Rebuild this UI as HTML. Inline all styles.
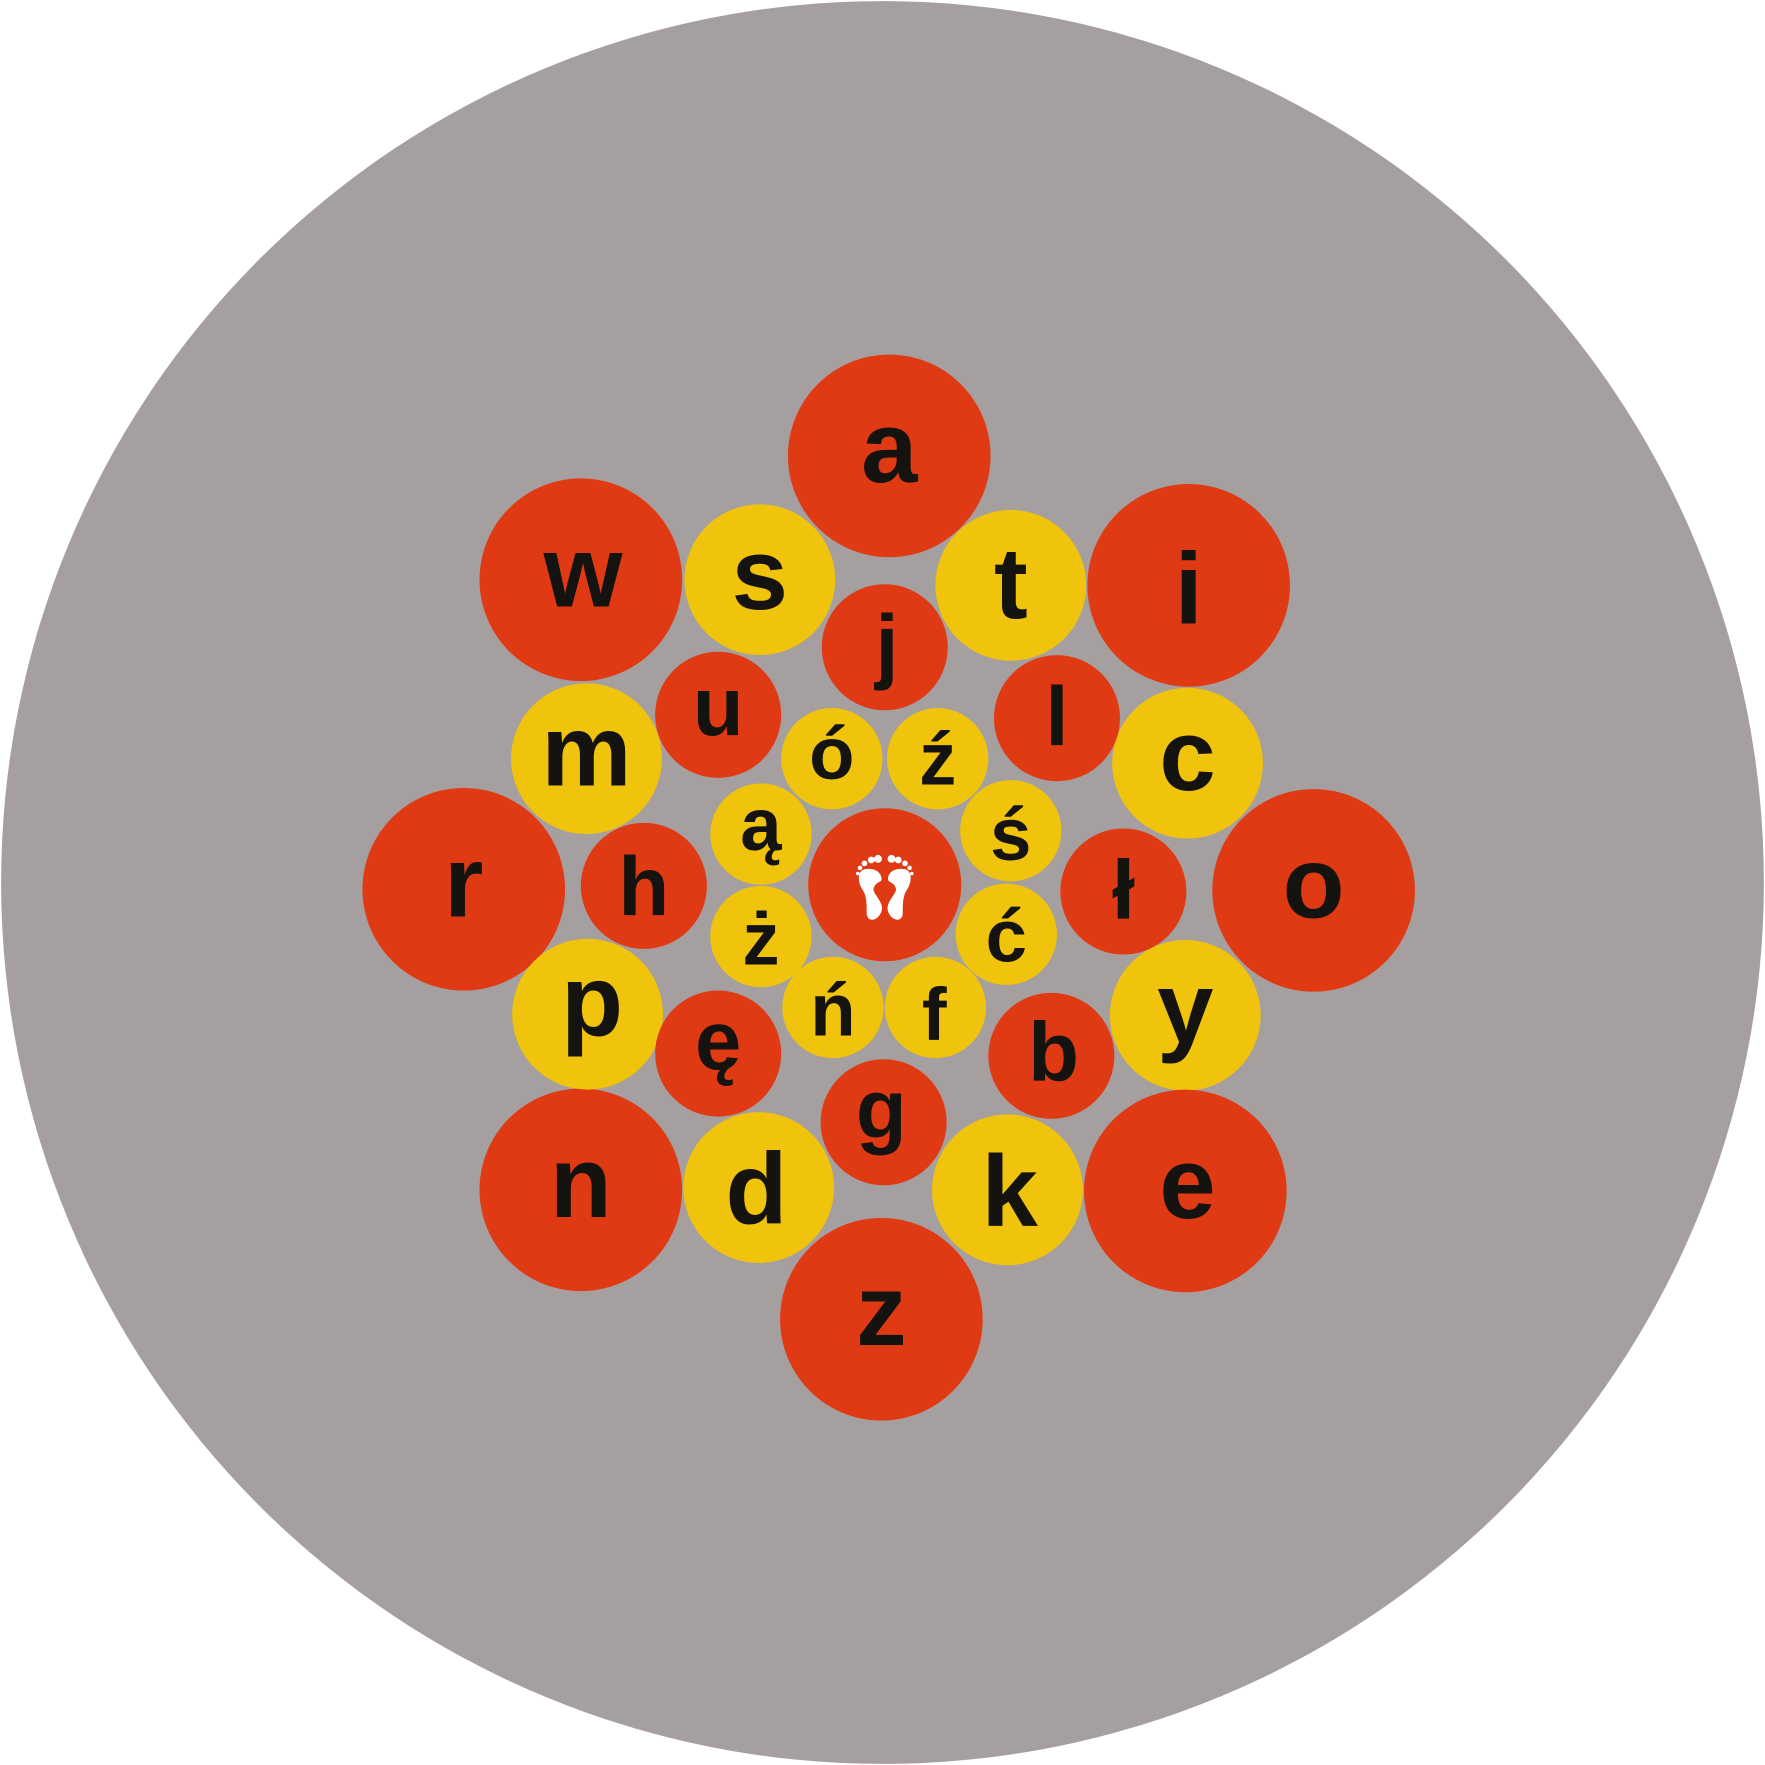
<!DOCTYPE html>
<html><head><style>html,body{margin:0;padding:0;background:#fff}svg{display:block}text{font-family:"Liberation Sans",sans-serif;font-weight:bold;fill:#14130f;text-anchor:middle}</style></head>
<body>
<svg width="1765" height="1765" viewBox="0 0 1568 1568" xmlns="http://www.w3.org/2000/svg">
<circle cx="784" cy="784" r="783" fill="#a5a09f"/>
<g fill="#f0c30c">
<circle cx="675" cy="515" r="67"/><circle cx="898" cy="520" r="67"/>
<circle cx="1055" cy="678" r="67"/><circle cx="1053" cy="902" r="67"/>
<circle cx="674" cy="1055" r="67"/><circle cx="895" cy="1057" r="67"/>
</g>
<g fill="#e03a14">
<circle cx="790" cy="405" r="90"/><circle cx="516" cy="515" r="90"/><circle cx="1056" cy="520" r="90"/>
<circle cx="412" cy="790" r="90"/><circle cx="1167" cy="791" r="90"/>
<circle cx="516" cy="1057" r="90"/><circle cx="1053" cy="1058" r="90"/><circle cx="783" cy="1172" r="90"/>
</g>
<g fill="#f0c30c">
<circle cx="521" cy="674" r="67"/><circle cx="522" cy="901" r="67"/>
</g>
<g fill="#e03a14">
<circle cx="786" cy="575" r="56"/><circle cx="638" cy="635" r="56"/><circle cx="939" cy="638" r="56"/>
<circle cx="572" cy="787" r="56"/><circle cx="998" cy="792" r="56"/><circle cx="638" cy="936" r="56"/>
<circle cx="934" cy="938" r="56"/><circle cx="785" cy="997" r="56"/>
<circle cx="786" cy="786" r="68"/>
</g>
<g fill="#f0c30c">
<circle cx="739" cy="674" r="45"/><circle cx="833" cy="674" r="45"/><circle cx="676" cy="741" r="45"/>
<circle cx="898" cy="738" r="45"/><circle cx="676" cy="832" r="45"/><circle cx="894" cy="830" r="45"/>
<circle cx="740" cy="895" r="45"/><circle cx="831" cy="895" r="45"/>
</g>
<g font-size="90">
<text x="790" y="428">a</text><text x="518" y="539">w</text><text x="1056" y="554">i</text>
<text x="412" y="814">r</text><text x="1167" y="815">o</text><text x="516" y="1081">n</text>
<text x="1055" y="1082">e</text><text x="783" y="1195">z</text>
<text x="675" y="541">s</text><text x="898" y="549">t</text><text x="521" y="698">m</text>
<text x="1055" y="702">c</text><text x="526" y="920">p</text><text x="1053" y="926">y</text>
<text x="672" y="1087">d</text><text x="897" y="1089">k</text>
</g>
<g font-size="74">
<text x="788" y="598">j</text><text x="638" y="653">u</text><text x="939" y="662">l</text>
<text x="572" y="813">h</text><text x="998" y="816">ł</text><text x="638" y="950">ę</text>
<text x="936" y="960">b</text><text x="783" y="1011">g</text>
</g>
<g font-size="66">
<text x="739" y="692">ó</text><text x="833" y="697">ź</text><text x="676" y="755">ą</text>
<text x="898" y="764">ś</text><text x="676" y="857">ż</text><text x="894" y="854">ć</text>
<text x="740" y="920">ń</text><text x="830" y="924">f</text>
</g>
<g fill="#fff">
<path d="M770 772 C762 772 761 782 766 790 C770 796 770 802 770 812 C771 820 780 818 783 810 C786 802 776 795 776 790 C777 784 782 784 783 782 C784 776 778 771 770 772Z"/>
<path d="M802 772 C810 772 811 782 806 790 C802 796 802 802 802 812 C801 820 792 818 789 810 C786 802 796 795 796 790 C795 784 790 784 789 782 C788 776 794 771 802 772Z"/>
<circle cx="780" cy="763" r="3.5"/><circle cx="774" cy="764" r="3"/><circle cx="768" cy="767" r="2.5"/><circle cx="764" cy="771" r="2"/><circle cx="762" cy="776" r="1.6"/>
<circle cx="792" cy="763" r="3.5"/><circle cx="798" cy="764" r="3"/><circle cx="804" cy="767" r="2.5"/><circle cx="808" cy="771" r="2"/><circle cx="810" cy="776" r="1.6"/>
</g>
</svg>
</body></html>
